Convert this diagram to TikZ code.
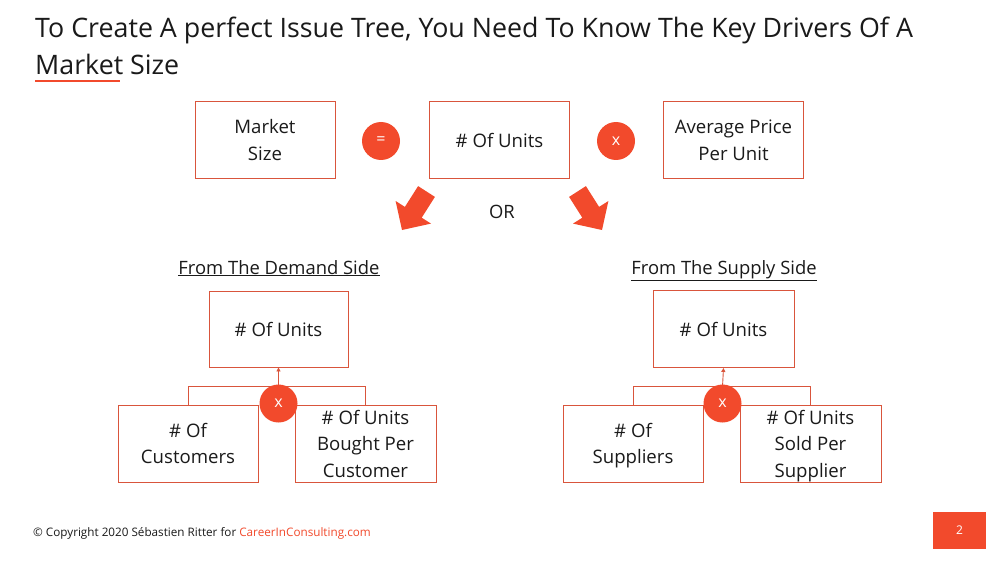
\documentclass[tikz,border=0pt]{standalone}
\usepackage{fontspec}
\setmainfont{Open Sans}
\usetikzlibrary{arrows.meta}
\definecolor{accent}{HTML}{F24A2C}
\definecolor{boxline}{HTML}{D9553C}
\definecolor{txt}{HTML}{1A1A1A}
\begin{document}
\begin{tikzpicture}[x=1pt,y=-1pt,
  box/.style={draw=boxline, line width=0.9pt, minimum width=140pt, minimum height=77pt, align=center,
    font=\fontsize{18.6}{26.5}\selectfont, text=txt, inner sep=0pt, text depth=0pt,
    execute at begin node={\rule{0pt}{14.5pt}}},
  op/.style={circle, fill=accent, minimum size=38pt, inner sep=0pt, text=white,
    font=\fontsize{16}{16}\selectfont},
  conn/.style={draw=boxline, line width=0.9pt},
  up/.style={conn, -{Triangle[length=4pt,width=4pt]}},
  heading/.style={font=\fontsize{18.4}{20}\selectfont, text=txt, inner sep=0pt}]
\useasboundingbox (0,0) rectangle (1000,564);
\fill[white] (0,0) rectangle (1000,564);
% title
\node[anchor=base west, inner sep=0pt, text=txt, font=\fontsize{26.8}{30}\selectfont] (t1) at (35,38)
  {To Create A perfect Issue Tree, You Need To Know The Key Drivers Of A};
\node[anchor=base west, inner sep=0pt, text=txt, font=\fontsize{26.8}{30}\selectfont] (t2) at (35,75)
  {Market Size};
\draw[accent, line width=2pt] (35,81) -- (120,81);
% top equation
\node[box] (ms) at (265,140) {Market\\Size};
\node[box] (nu) at (499.5,140) {\# Of Units};
\node[box] (ap) at (733.5,140) {Average Price\\Per Unit};
\node[op] (eq) at (381,141) {=};
\node[op] (mul) at (616,141) {x};
% big arrows
\fill[accent] (434.9,196.9) -- (418.1,186.1) -- (404.9,206.9) -- (395.6,201.0) -- (402,230)
  -- (431.0,223.6) -- (421.7,217.7) -- cycle;
\fill[accent] (569.1,196.9) -- (585.9,186.1) -- (599.1,206.9) -- (608.4,201.0) -- (602,230)
  -- (573.0,223.6) -- (582.3,217.7) -- cycle;
\node[heading] (or) at (502,212) {OR};
% headings
\node[heading, anchor=base] (hd) at (279,274) {\underline{From The Demand Side}};
\node[heading, anchor=base] (hs) at (724,274) {\underline{From The Supply Side}};
% demand tree
\node[box, minimum width=139pt, minimum height=76pt] (lt) at (278.5,329) {\# Of Units};
\node[box] (lc) at (188,443.5) {\# Of\\Customers};
\node[box, minimum width=141pt] (lr) at (365.5,443.5) {\# Of Units\\Bought Per\\Customer};
\coordinate (lh) at (278.5,386.5);
\draw[conn] (lc.north) |- (lh) -| (lr.north);
\draw[up] (lh) -- (lt.south);
\node[op] (lx) at (278.5,403.5) {x};
% supply tree
\node[box, minimum width=141pt, minimum height=77pt] (rt) at (723.5,329) {\# Of Units};
\node[box] (rc) at (633,443.5) {\# Of\\Suppliers};
\node[box, minimum width=141pt] (rr) at (810.5,443.5) {\# Of Units\\Sold Per\\Supplier};
\coordinate (rh) at (722.5,386.5);
\draw[conn] (rc.north) |- (rh) -| (rr.north);
\draw[up] (rh) -- (rt.south);
\node[op] (rx) at (722.5,403.5) {x};
% footer
\node[anchor=base west, inner sep=0pt, font=\fontsize{11.7}{13}\selectfont, text=txt] (ft) at (33,536)
  {© Copyright 2020 Sébastien Ritter for \textcolor{accent}{CareerInConsulting.com}};
\node[fill=accent, minimum width=53pt, minimum height=37pt, inner sep=0pt, text=white,
  font=\fontsize{12}{12}\selectfont] (pg) at (959.5,530) {2};
\end{tikzpicture}
\end{document}
